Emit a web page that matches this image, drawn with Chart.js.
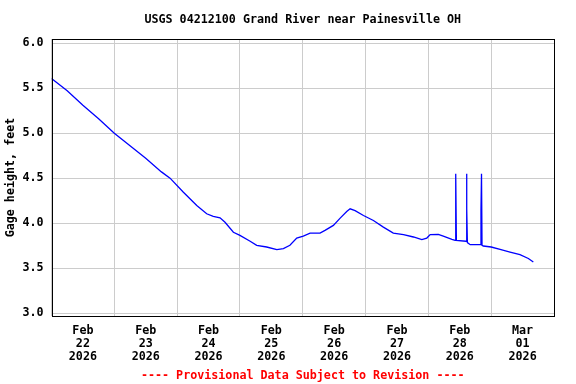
<!DOCTYPE html>
<html lang="en">
<head>
  <meta charset="UTF-8" />
  <title>USGS 04212100 Grand River near Painesville OH</title>
  <script src="https://cdn.jsdelivr.net/npm/chart.js"></script>
  <style>
    body {
      margin: 0;
      background: #ffffff;
    }
    #wrap {
      width: 576px;
      height: 384px;
    }
  </style>
</head>
<body>
  <div id="wrap">
    <canvas id="gageChart" width="576" height="384"></canvas>
  </div>

  <script>
    // hours since Feb 22 2026 00:00, and gage height in feet
    const hours = [
      0, 6, 12, 18, 24, 30, 36, 42, 45.3, 50.4, 55.5, 59.3, 61.8, 64.4, 66.3,
      69.5, 72, 75.9, 78.4, 82.2, 86.1, 88.6, 91.1, 93.7, 96.2, 98.8, 102.6,
      104.5, 107.7, 110.3, 112.8, 114.1, 116, 119.2, 123, 126.8, 130.6, 134.5,
      138.3, 141.5, 143.4, 144.7, 147.8, 149.7, 153, 154.2, 154.4, 154.5, 154.7,
      158.4, 158.6, 158.7, 158.9, 160, 164, 164.1, 164.3, 164.5, 165, 168,
      171.4, 175.2, 179, 182.2, 184.1
    ];
    const gageFt = [
      5.607, 5.47, 5.31, 5.16, 5.00, 4.86, 4.72, 4.57, 4.50, 4.343, 4.197, 4.105, 4.075, 4.06, 4.01,
      3.90, 3.865, 3.80, 3.755, 3.736, 3.707, 3.718, 3.755, 3.835, 3.857, 3.89, 3.89,
      3.92, 3.976, 4.056, 4.13, 4.16, 4.14, 4.086, 4.03, 3.957, 3.89, 3.873,
      3.847, 3.818, 3.835, 3.873, 3.876, 3.857, 3.82, 3.81, 4.19, 4.55, 3.81,
      3.80, 4.55, 4.16, 3.785, 3.762, 3.762, 4.15, 4.55, 3.755, 3.747, 3.736,
      3.71, 3.68, 3.652, 3.608, 3.57
    ];

    const dayLabels = [
      ['Feb', '22', '2026'], ['Feb', '23', '2026'], ['Feb', '24', '2026'], ['Feb', '25', '2026'],
      ['Feb', '26', '2026'], ['Feb', '27', '2026'], ['Feb', '28', '2026'], ['Mar', '01', '2026']
    ];
    const yTicks = [3.0, 3.5, 4.0, 4.5, 5.0, 5.5, 6.0];

    const chartTitle = 'USGS 04212100 Grand River near Painesville OH';
    const footerText = '---- Provisional Data Subject to Revision ----';
    const fontFamily = '"DejaVu Sans Mono", "Liberation Mono", monospace';

    // frame + title + footer
    const framePlugin = {
      id: 'frame',
      afterDraw(chart) {
        const { ctx, chartArea } = chart;
        const cx = (chartArea.left + chartArea.right) / 2;
        ctx.save();
        ctx.strokeStyle = '#000';
        ctx.lineWidth = 1;
        ctx.strokeRect(Math.round(chartArea.left) + 0.5, Math.round(chartArea.top) + 0.5,
          Math.round(chartArea.right - chartArea.left) - 1, Math.round(chartArea.bottom - chartArea.top));
        ctx.font = 'bold 11.7px ' + fontFamily;
        ctx.textAlign = 'center';
        ctx.textBaseline = 'middle';
        ctx.fillStyle = '#000';
        ctx.fillText(chartTitle, cx, 20);
        ctx.fillStyle = '#ff0000';
        ctx.fillText(footerText, cx, 376);
        ctx.restore();
      }
    };

    const points = hours.map((h, i) => ({ x: h, y: gageFt[i] }));

    new Chart(document.getElementById('gageChart').getContext('2d'), {
      type: 'line',
      data: {
        datasets: [{
          data: points,
          borderColor: '#0000ff',
          borderWidth: 1.3,
          pointRadius: 0,
          tension: 0
        }]
      },
      options: {
        responsive: false,
        animation: false,
        layout: { padding: { top: 39, right: 22, bottom: 16, left: 0 } },
        plugins: {
          legend: { display: false },
          tooltip: { enabled: false }
        },
        scales: {
          x: {
            type: 'linear',
            min: 0,
            max: 192,
            afterBuildTicks(scale) {
              const t = [];
              for (let v = 0; v <= 192; v += 12) t.push({ value: v });
              scale.ticks = t;
            },
            afterFit(scale) { scale.height = 52; },
            border: { display: false },
            grid: {
              drawTicks: false,
              color: ctx => (ctx.tick && ctx.tick.value % 24 === 0) ? '#cccccc' : 'rgba(0,0,0,0)'
            },
            ticks: {
              autoSkip: false,
              maxRotation: 0,
              padding: 8,
              color: '#000',
              font: { family: fontFamily, weight: 'bold', size: 11.7, lineHeight: 1.12 },
              callback: v => (v % 24 === 12) ? dayLabels[(v - 12) / 24] : ''
            }
          },
          y: {
            min: 2.97,
            max: 6.045,
            afterBuildTicks(scale) {
              scale.ticks = yTicks.map(v => ({ value: v }));
            },
            afterFit(scale) { scale.width = 51.5; },
            border: { display: false },
            grid: { drawTicks: false, color: '#cccccc' },
            ticks: {
              padding: 8,
              color: '#000',
              font: { family: fontFamily, weight: 'bold', size: 11.7 },
              callback: v => Number(v).toFixed(1)
            },
            title: {
              display: true,
              text: 'Gage height, feet',
              color: '#000',
              padding: { top: 4, bottom: 0 },
              font: { family: fontFamily, weight: 'bold', size: 11.7 }
            }
          }
        }
      },
      plugins: [framePlugin]
    });
  </script>
</body>
</html>
